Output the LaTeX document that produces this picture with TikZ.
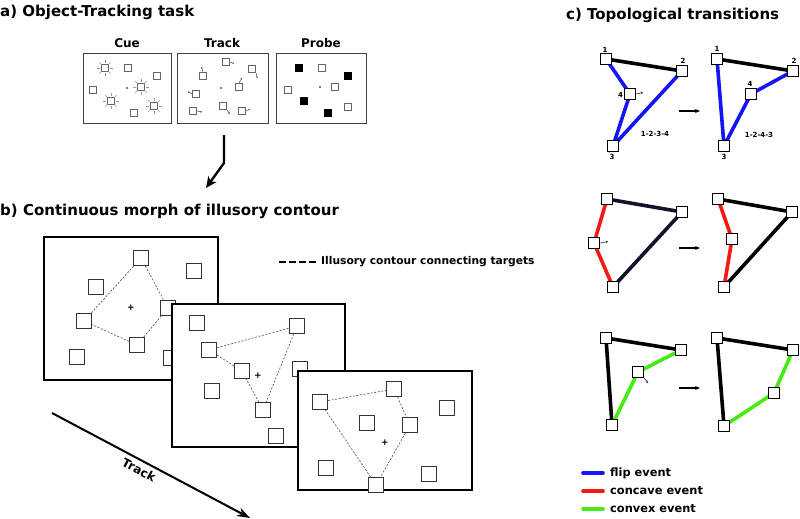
\documentclass[tikz,border=0pt]{standalone}
\usepackage{fontspec}
\setmainfont{DejaVu Sans}
\usetikzlibrary{arrows.meta}
\pgfdeclarelayer{bg}
\pgfsetlayers{bg,main}
\definecolor{flipblue}{RGB}{20,20,245}
\definecolor{concred}{RGB}{245,25,20}
\definecolor{convgreen}{RGB}{70,235,20}
\definecolor{navyk}{RGB}{18,18,45}
\begin{document}
\begin{tikzpicture}[x=1pt,y=-1pt,
  title/.style={anchor=west,inner sep=0,font=\bfseries\fontsize{15}{17}\selectfont},
  plabel/.style={inner sep=0,font=\bfseries\fontsize{12}{14}\selectfont},
  abox/.style={draw=black!75,line width=0.9},
  asq/.style={draw=black!60,line width=0.8,fill=white,minimum size=7.5,inner sep=0},
  psq/.style={draw=black,line width=0.8,fill=black,minimum size=7.5,inner sep=0},
  ray/.style={draw=black!40,line width=0.5},
  tail/.style={draw=black!70,line width=0.5,-{Stealth[length=1.8pt,width=1.8pt]}},
  frame/.style={draw=black,line width=1.8,fill=white},
  tsq/.style={draw=black!80,line width=1.1,fill=white,minimum size=15,inner sep=0},
  contour/.style={draw=black!70,line width=0.6,dash pattern=on 2pt off 1.6pt},
  fix/.style={inner sep=0,font=\bfseries\fontsize{9}{9}\selectfont},
  csq/.style={draw=black,line width=1.4,fill=white,minimum size=11,inner sep=0},
  num/.style={inner sep=0,font=\bfseries\fontsize{7}{8}\selectfont},
  kedge/.style={line width=3.6,black},
  nedge/.style={line width=3.6,navyk},
  bedge/.style={line width=3.6,flipblue},
  redge/.style={line width=3.6,concred},
  gedge/.style={line width=3.6,convgreen},
  move/.style={line width=0.6,black!80,-{Stealth[length=2.5pt,width=2.5pt]}},
  carrow/.style={line width=1.4,-{Stealth[length=5pt,width=4pt]}},
  legtext/.style={anchor=west,inner sep=0,font=\bfseries\fontsize{11.4}{13}\selectfont}
]
\useasboundingbox (0,0) rectangle (800,519);

% ---------- titles ----------
\node[title] (ta) at (0,12) {a) Object-Tracking task};
\node[title] (tb) at (0,211) {b) Continuous morph of illusory contour};
\node[title] (tc) at (566,15) {c) Topological transitions};

% ---------- a) panels ----------
\node[plabel] (lcue) at (127,43) {Cue};
\node[plabel] (ltrack) at (222,43) {Track};
\node[plabel] (lprobe) at (321,43) {Probe};
\draw[abox] (83,53) rectangle (171,123);
\draw[abox] (177,53) rectangle (268,123);
\draw[abox] (276,53) rectangle (366,123);

% Cue
\foreach \n/\x/\y in {c1/105/68, c2/141/87, c3/111/101, c4/154/106}{
  \node[asq] (\n) at (\x,\y) {};
  \foreach \a in {0,45,...,315} \draw[ray] (\n.center) ++(\a:5) -- ++(\a:3.2);
}
\foreach \n/\x/\y in {c5/128/68, c6/157/76, c7/93/90, c8/134/113}
  \node[asq] (\n) at (\x,\y) {};
\fill (127,88) circle (0.8);

% Track
\foreach \n/\x/\y in {t1/226/62, t2/252/69, t3/203/76, t5/239/87, t6/196/94, t7/223/106, t8/193/111, t9/242/111}
  \node[asq] (\n) at (\x,\y) {};
\fill (221,88) circle (0.8);
\draw[tail] (t1.east) -- ++(4,1.5);
\draw[tail] (t2.south east) -- ++(1,5);
\draw[tail] (t3.north) -- ++(-1.5,-5);
\draw[tail] (t5.north) -- ++(3,-5);
\draw[tail] (t6.west) -- ++(-4,-2.5);
\draw[tail] (t7.south east) -- ++(2.5,4);
\draw[tail] (t8.east) -- ++(5,1);
\draw[tail] (t9.east) -- ++(4,-2);

% Probe
\foreach \n/\x/\y in {p1/299/68, p3/348/76, p5/304/101, p8/328/113}
  \node[psq] (\n) at (\x,\y) {};
\foreach \n/\x/\y in {p2/322/68, p4/288/90, p6/335/87, p7/348/107}
  \node[asq] (\n) at (\x,\y) {};
\fill (320,87) circle (0.8);

% arrow a -> b
\coordinate (ar1) at (224,135);
\coordinate (ar2) at (224,163);
\coordinate (ar3) at (206,188);
\draw[line width=2.4,-{Stealth[length=11pt,width=10pt,inset=3pt]}] (ar1) -- (ar2) -- (ar3);

% ---------- b) frames ----------
% frame 1
\draw[frame] (44,237) rectangle (218,380);
\foreach \n/\x/\y in {fa/141/258, fb/194/271, fc/96/287, fd/168/308, fe/84/321, ff/137/345, fg/77/357, fh/171/358}
  \node[tsq] (\n) at (\x,\y) {};
\node[fix] (fx1) at (131,308) {+};
\draw[contour] (fa) -- (fd) -- (ff) -- (fe) -- (fa);

% frame 2
\draw[frame] (172,304) rectangle (345,447);
\foreach \n/\x/\y in {ga/197/323, gb/297/326, gc/209/350, gd/242/371, ge/212/391, gf/263/410, gg/300/369, gh/276/436}
  \node[tsq] (\n) at (\x,\y) {};
\node[fix] (fx2) at (258,376) {+};
\draw[contour] (gc) -- (gb) -- (gf) -- (gd) -- (gc);

% frame 3
\draw[frame] (298,371) rectangle (472,490);
\foreach \n/\x/\y in {ha/320/402, hb/394/389, hc/447/408, hd/367/423, he/410/425, hf/326/468, hg/429/474, hh/376/485}
  \node[tsq] (\n) at (\x,\y) {};
\node[fix] (fx3) at (385,443) {+};
\draw[contour] (ha) -- (hb) -- (he) -- (hh) -- (ha);

% legend b
\coordinate (lg1) at (279,262);
\coordinate (lg2) at (317,262);
\draw[line width=2,dash pattern=on 7pt off 3pt] (lg1) -- (lg2);
\node[anchor=west,inner sep=0,font=\bfseries\fontsize{10.7}{12}\selectfont] (lgt) at (321,262) {Illusory contour connecting targets};

% Track arrow
\coordinate (ts) at (52,413);
\coordinate (te) at (250,518);
\draw[line width=2,-{Stealth[length=13pt,width=9pt]}] (ts) -- (te);
\node[plabel,rotate=-27.7] (trl) at (139,470) {Track};

% ---------- c) ----------
% row 1
\node[csq] (a1) at (606,59) {};
\node[csq] (a2) at (682,71) {};
\node[csq] (a4) at (630,94) {};
\node[csq] (a3) at (613,146) {};
\begin{pgfonlayer}{bg}
\draw[kedge] (a1.center) -- (a2.center);
\draw[bedge] (a1.center) -- (a4.center) -- (a3.center) -- (a2.center);
\end{pgfonlayer}
\node[num] (n1) at (605,50) {1};
\node[num] (n2) at (683,61) {2};
\node[num] (n4) at (620.5,95) {4};
\node[num] (n3) at (612,157) {3};
\draw[move] (a4.east) -- ++(7,-1.5);
\node[num] (o1) at (655,134) {1-2-3-4};

\node[csq] (b1) at (717,59) {};
\node[csq] (b2) at (793,71) {};
\node[csq] (b4) at (751,94) {};
\node[csq] (b3) at (724,146) {};
\begin{pgfonlayer}{bg}
\draw[kedge] (b1.center) -- (b2.center);
\draw[bedge] (b2.center) -- (b4.center) -- (b3.center) -- (b1.center);
\end{pgfonlayer}
\node[num] (m1) at (717,49) {1};
\node[num] (m2) at (794,61) {2};
\node[num] (m4) at (750,84) {4};
\node[num] (m3) at (724,156.5) {3};
\node[num] (o2) at (759,135) {1-2-4-3};
\coordinate (r1s) at (679,111);
\coordinate (r1e) at (700,111);
\draw[carrow] (r1s) -- (r1e);

% row 2
\node[csq] (d1) at (607,199) {};
\node[csq] (d2) at (682,212) {};
\node[csq] (d3) at (594,243) {};
\node[csq] (d4) at (613,287) {};
\begin{pgfonlayer}{bg}
\draw[nedge] (d1.center) -- (d2.center);
\draw[nedge] (d4.center) -- (d2.center);
\draw[redge] (d1.center) -- (d3.center) -- (d4.center);
\end{pgfonlayer}
\draw[move] (d3.east) -- ++(8,-1.5);

\node[csq] (e1) at (718,199) {};
\node[csq] (e2) at (792,212) {};
\node[csq] (e3) at (732,239) {};
\node[csq] (e4) at (724,287) {};
\begin{pgfonlayer}{bg}
\draw[kedge] (e1.center) -- (e2.center);
\draw[kedge] (e4.center) -- (e2.center);
\draw[redge] (e1.center) -- (e3.center) -- (e4.center);
\end{pgfonlayer}
\coordinate (r2s) at (679,248);
\coordinate (r2e) at (700,248);
\draw[carrow] (r2s) -- (r2e);

% row 3
\node[csq] (g1) at (606,338) {};
\node[csq] (g2) at (681,350) {};
\node[csq] (g3) at (638,372) {};
\node[csq] (g4) at (612,425) {};
\begin{pgfonlayer}{bg}
\draw[kedge] (g2.center) -- (g1.center) -- (g4.center);
\draw[gedge] (g2.center) -- (g3.center) -- (g4.center);
\end{pgfonlayer}
\draw[move] (g3.south east) -- ++(4,5);

\node[csq] (h1) at (717,338) {};
\node[csq] (h2) at (793,350) {};
\node[csq] (h3) at (774,393) {};
\node[csq] (h4) at (724,426) {};
\begin{pgfonlayer}{bg}
\draw[kedge] (h2.center) -- (h1.center) -- (h4.center);
\draw[gedge] (h2.center) -- (h3.center) -- (h4.center);
\end{pgfonlayer}
\coordinate (r3s) at (679,388);
\coordinate (r3e) at (700,388);
\draw[carrow] (r3s) -- (r3e);

% legend c
\coordinate (la1) at (583,473); \coordinate (la2) at (603,473);
\coordinate (lb1) at (583,491); \coordinate (lb2) at (603,491);
\coordinate (lc1) at (583,509); \coordinate (lc2) at (603,509);
\draw[line width=3.6,flipblue,line cap=round] (la1) -- (la2);
\draw[line width=3.6,concred,line cap=round] (lb1) -- (lb2);
\draw[line width=3.6,convgreen,line cap=round] (lc1) -- (lc2);
\node[legtext] (lt1) at (610,473) {flip event};
\node[legtext] (lt2) at (610,491) {concave event};
\node[legtext] (lt3) at (610,509) {convex event};
\end{tikzpicture}
\end{document}
